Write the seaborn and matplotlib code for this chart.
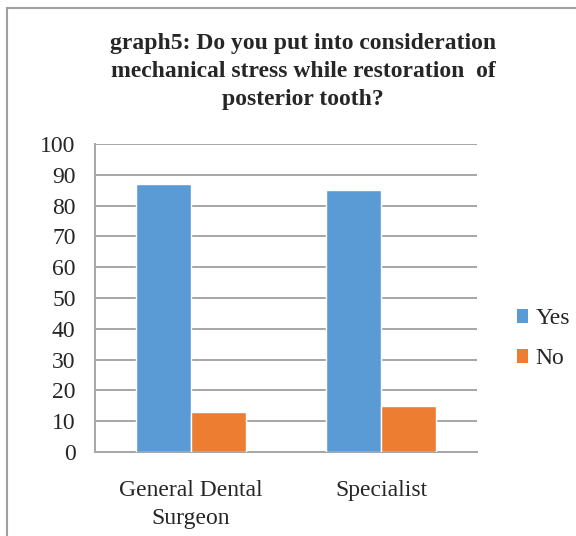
import matplotlib
matplotlib.use("Agg")
import matplotlib.pyplot as plt
import seaborn as sns
import pandas as pd
from matplotlib.patches import Rectangle, Patch

categories = ["General Dental\nSurgeon", "Specialist"]
answers = ["Yes", "No"]
yes_values = [87, 85]
no_values = [13, 15]
y_ticks = [0, 10, 20, 30, 40, 50, 60, 70, 80, 90, 100]

df = pd.DataFrame({
    "group": categories * 2,
    "answer": [answers[0]] * 2 + [answers[1]] * 2,
    "percent": yes_values + no_values,
})

sns.set_theme(style="white")
plt.rcParams["font.family"] = ["Liberation Serif", "DejaVu Serif"]

colors = {"Yes": "#5B9BD5", "No": "#ED7D31"}

fig = plt.figure(figsize=(5.76, 5.36), dpi=100)
ax = fig.add_axes([0.165, 0.157, 0.663, 0.574])

sns.barplot(data=df, x="group", y="percent", hue="answer", hue_order=answers,
            palette=colors, width=0.576, saturation=1, ax=ax, legend=False,
            zorder=3)

ax.set_ylim(0, 100)
ax.set_yticks(y_ticks)
ax.set_xlim(-0.5, 1.5)
ax.yaxis.grid(True, color="#A6A6A6", linewidth=1.4, zorder=0)
ax.set_axisbelow(True)
for side in ["top", "right"]:
    ax.spines[side].set_visible(False)
for side in ["left", "bottom"]:
    ax.spines[side].set_color("#A6A6A6")
    ax.spines[side].set_linewidth(1.4)
ax.set_xlabel("")
ax.set_ylabel("")
ax.tick_params(axis="y", length=0, labelsize=17, pad=14)
ax.tick_params(axis="x", length=0, labelsize=17, pad=20)
for lbl in ax.get_xticklabels():
    lbl.set_linespacing(1.45)

fig.text(0.526, 0.867, "graph5: Do you put into consideration\n"
         "mechanical stress while restoration  of\nposterior tooth?",
         ha="center", va="center", fontsize=17, fontweight="bold",
         linespacing=1.42)

handles = [Patch(facecolor=colors[a], edgecolor="none", label=a) for a in answers]
fig.legend(handles=handles, loc="center left", bbox_to_anchor=(0.897, 0.368),
           frameon=False, fontsize=17, handlelength=0.5, handleheight=0.5,
           handletextpad=0.3, labelspacing=0.8, borderaxespad=0, borderpad=0)

fig.add_artist(Rectangle((7 / 576, -0.05), 1.2, 1 - 8 / 536 + 0.05,
                         transform=fig.transFigure, fill=False,
                         edgecolor="#A0A0A0", linewidth=1.5))

fig.savefig("out.png", dpi=100, facecolor="white")
